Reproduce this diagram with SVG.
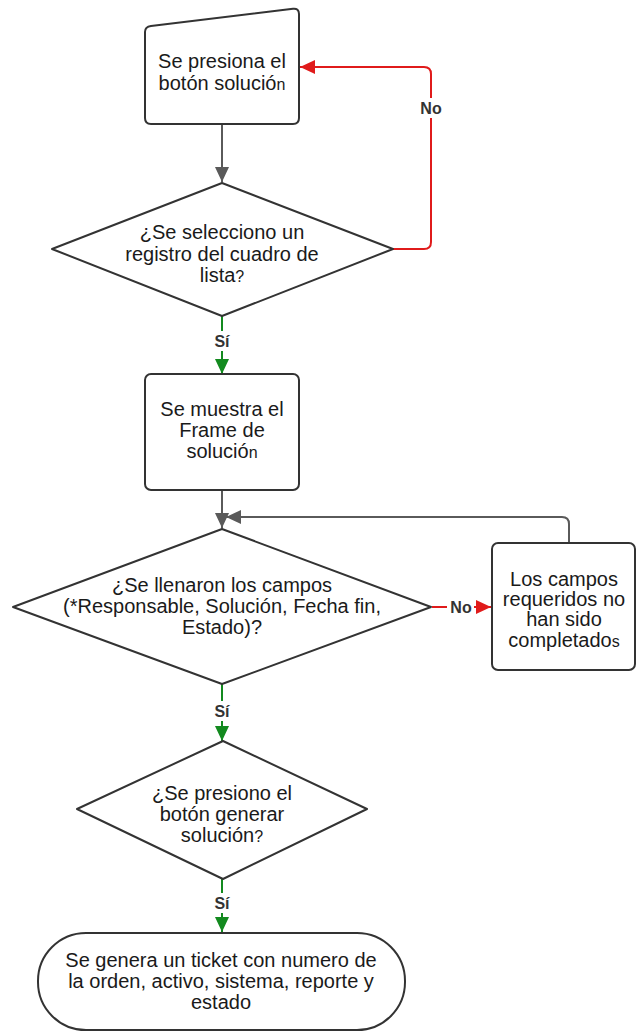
<svg xmlns="http://www.w3.org/2000/svg" width="636" height="1032" viewBox="0 0 636 1032">
<style>
.shape{fill:#fff;stroke:#333;stroke-width:2;stroke-linejoin:round}
.t{font-family:"Liberation Sans",Arial,sans-serif;font-size:20px;fill:#1a1a1a;text-anchor:middle}
.sm{font-size:16px}
.lbl{font-family:"Liberation Sans",Arial,sans-serif;font-size:16px;font-weight:bold;fill:#333;text-anchor:middle}
.gray{fill:none;stroke:#5a5a5a;stroke-width:2}
.red{fill:none;stroke:#e01b1b;stroke-width:2}
.green{fill:none;stroke:#138a1f;stroke-width:2}
.bg{fill:#fff}
</style>
<defs>
<marker id="ag" markerUnits="userSpaceOnUse" markerWidth="15" markerHeight="14" refX="15" refY="7" orient="auto"><path d="M0,0 L15,7 L0,14 z" fill="#5a5a5a"/></marker>
<marker id="ar" markerUnits="userSpaceOnUse" markerWidth="15" markerHeight="14" refX="15" refY="7" orient="auto"><path d="M0,0 L15,7 L0,14 z" fill="#e01b1b"/></marker>
<marker id="agr" markerUnits="userSpaceOnUse" markerWidth="15" markerHeight="14" refX="15" refY="7" orient="auto"><path d="M0,0 L15,7 L0,14 z" fill="#138a1f"/></marker>
</defs>
<g id="connectors">
<path class="gray" d="M222,124 V182" marker-end="url(#ag)"/>
<path class="red" d="M393,249 H424 Q431,249 431,242 V74 Q431,67 424,67 H300" marker-end="url(#ar)"/>
<path class="green" d="M222,316 V374" marker-end="url(#agr)"/>
<path class="gray" d="M222,490 V528" marker-end="url(#ag)"/>
<path class="gray" d="M569,543 V524 Q569,517 562,517 H226" marker-end="url(#ag)"/>
<path class="red" d="M432,607 H491" marker-end="url(#ar)"/>
<path class="green" d="M222,684 V741" marker-end="url(#agr)"/>
<path class="green" d="M222,879 V932" marker-end="url(#agr)"/>
<rect class="bg" x="418" y="98" width="26" height="20"/>
<text class="lbl" x="431" y="114">No</text>
<rect class="bg" x="447" y="597" width="27" height="20"/>
<text class="lbl" x="461" y="613">No</text>
<rect class="bg" x="212" y="331" width="20" height="20"/>
<text class="lbl" x="222" y="347">Sí</text>
<rect class="bg" x="212" y="701" width="20" height="20"/>
<text class="lbl" x="222" y="717">Sí</text>
<rect class="bg" x="212" y="893" width="20" height="20"/>
<text class="lbl" x="222" y="909">Sí</text>
</g>
<g id="n1">
<path class="shape" d="M151,26 L293,8.7 Q299,8 299,14 L299,118 Q299,124 293,124 L151,124 Q145,124 145,118 L145,32 Q145,26.8 151,26 Z"/>
<text class="t" x="222" y="68">Se presiona el</text>
<text class="t" x="222" y="90">botón solució<tspan class="sm">n</tspan></text>
</g>
<g id="n2">
<path class="shape" d="M222,183 L393,249 L222,316 L52,249 Z"/>
<text class="t" x="222" y="239">¿Se selecciono un</text>
<text class="t" x="222" y="261">registro del cuadro de</text>
<text class="t" x="222" y="282">lista<tspan class="sm">?</tspan></text>
</g>
<g id="n3">
<rect class="shape" x="145" y="374" width="154" height="116" rx="6"/>
<text class="t" x="222" y="416">Se muestra el</text>
<text class="t" x="222" y="437">Frame de</text>
<text class="t" x="222" y="458">solució<tspan class="sm">n</tspan></text>
</g>
<g id="n4">
<path class="shape" d="M222,529 L431,607 L222,684 L13,607 Z"/>
<text class="t" x="222" y="592">¿Se llenaron los campos</text>
<text class="t" x="222" y="613">(*Responsable, Solución, Fecha fin,</text>
<text class="t" x="222" y="634">Estado)?</text>
</g>
<g id="n5">
<rect class="shape" x="492" y="543" width="143" height="127" rx="6"/>
<text class="t" x="564" y="586">Los campos</text>
<text class="t" x="564" y="606">requeridos no</text>
<text class="t" x="564" y="626">han sido</text>
<text class="t" x="564" y="647">completado<tspan class="sm">s</tspan></text>
</g>
<g id="n6">
<path class="shape" d="M223,741 L367,809 L223,879 L77,809 Z"/>
<text class="t" x="222" y="800">¿Se presiono el</text>
<text class="t" x="222" y="821">botón generar</text>
<text class="t" x="222" y="842">solución<tspan class="sm">?</tspan></text>
</g>
<g id="n7">
<rect class="shape" x="38" y="933" width="367" height="97" rx="48"/>
<text class="t" x="221" y="967">Se genera un ticket con numero de</text>
<text class="t" x="221" y="988">la orden, activo, sistema, reporte y</text>
<text class="t" x="221" y="1009">estado</text>
</g>
</svg>
